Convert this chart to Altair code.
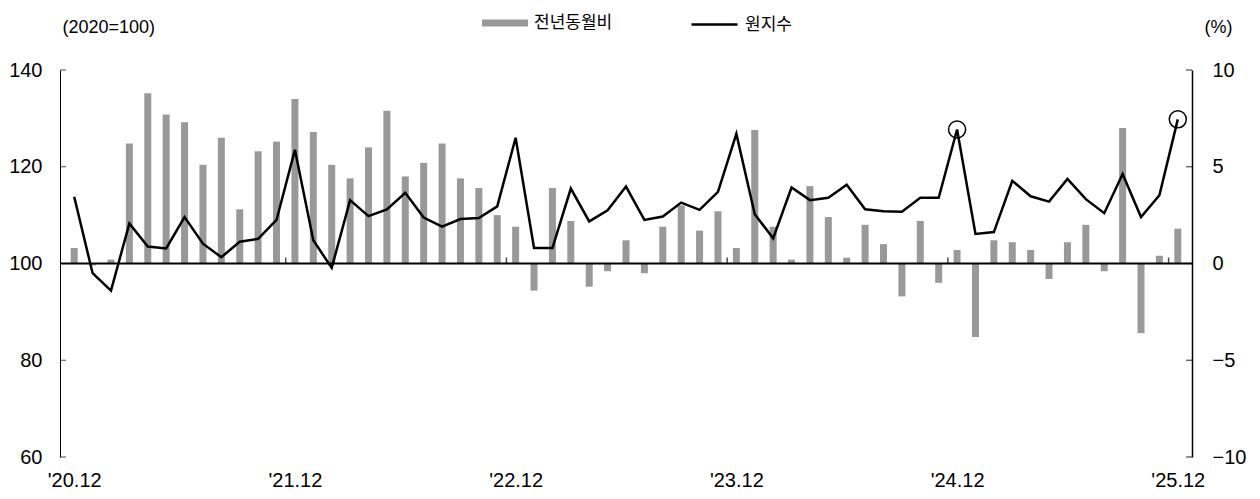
import json
import altair as alt
import pandas as pd

# ---- data ----
month_idx = list(range(61))  # '20.12 ... '25.12
index_vals = [113.8, 98.0, 94.4, 108.3, 103.5, 103.1, 109.6, 104.1, 101.3, 104.5, 105.1, 109.0,
              123.5, 104.8, 99.1, 113.1, 109.8, 111.2, 114.6, 109.5, 107.6, 109.2, 109.4, 111.8,
              126.0, 103.2, 103.2, 115.5, 108.7, 111.0, 115.9, 109.0, 109.7, 112.6, 111.1, 114.8,
              126.8, 110.2, 105.2, 115.7, 113.1, 113.6, 116.3, 111.2, 110.8, 110.7, 113.6, 113.6,
              127.7, 106.1, 106.5, 117.1, 113.9, 112.8, 117.5, 113.3, 110.4, 118.5, 109.6, 114.1,
              129.8]
yoy_vals = [0.8, -0.1, 0.2, 6.2, 8.8, 7.7, 7.3, 5.1, 6.5, 2.8, 5.8, 6.3,
            8.5, 6.8, 5.1, 4.4, 6.0, 7.9, 4.5, 5.2, 6.2, 4.4, 3.9, 2.5,
            1.9, -1.4, 3.9, 2.2, -1.2, -0.4, 1.2, -0.5, 1.9, 3.0, 1.7, 2.7,
            0.8, 6.9, 1.9, 0.2, 4.0, 2.4, 0.3, 2.0, 1.0, -1.7, 2.2, -1.0,
            0.7, -3.8, 1.2, 1.1, 0.7, -0.8, 1.1, 2.0, -0.4, 7.0, -3.6, 0.4,
            1.8]
highlight_idx = [48, 60]
x_label_pos = [0, 12, 24, 36, 48, 60]
x_labels = ["'20.12", "'21.12", "'22.12", "'23.12", "'24.12", "'25.12"]
year_breaks = [11.5, 23.5, 35.5, 47.5, 59.5]
left_ticks = [60, 80, 100, 120, 140]
right_ticks = [-10, -5, 0, 5, 10]
bar_name = "전년동월비"
line_name = "원지수"

W, H = 1132, 387
NUM_FONT = "Liberation Sans, Arial, sans-serif"
KR_FONT = "Noto Sans CJK KR"

df = pd.DataFrame({"i": month_idx, "v": index_vals, "p": yoy_vals})
df["s1"] = bar_name
df["s2"] = line_name
hl = df[df["i"].isin(highlight_idx)]

x_axis = alt.Axis(values=x_label_pos,
                  labelExpr=json.dumps(x_labels) + "[round(datum.value/12)]",
                  domain=False, ticks=False, grid=False, labelPadding=13,
                  labelFontSize=20, labelFont=NUM_FONT, labelColor="black",
                  title=None)
X = alt.X("i:Q", scale=alt.Scale(domain=[-0.5, 60.5], nice=False, zero=False), axis=x_axis)

left_axis = alt.Axis(values=left_ticks, ticks=False, grid=False, domain=True,
                     domainColor="black", domainWidth=1, labelPadding=18,
                     labelFontSize=20, labelFont=NUM_FONT, labelColor="black",
                     title="(2020=100)", titleAngle=0, titleX=2, titleY=-43,
                     titleAlign="left", titleBaseline="middle", titleFontSize=18,
                     titleFontWeight="normal", titleFont=NUM_FONT, titleColor="black")
YL = alt.Y("v:Q", scale=alt.Scale(domain=[60, 140], nice=False, zero=False), axis=left_axis)

right_axis = alt.Axis(orient="right", values=right_ticks, ticks=False, grid=False, domain=True,
                      domainColor="black", domainWidth=1.5, labelPadding=20,
                      labelAlign="left", labelFontSize=20, labelFont=NUM_FONT,
                      labelColor="black",
                      title="(%)", titleAngle=0, titleX=26, titleY=-43,
                      titleAlign="center", titleBaseline="middle", titleFontSize=18,
                      titleFontWeight="normal", titleFont=NUM_FONT, titleColor="black")
YR = alt.Y("p:Q", scale=alt.Scale(domain=[-10, 10], nice=False), axis=right_axis)

bars = alt.Chart(df).mark_bar(size=7).encode(
    x=X, y=YR,
    color=alt.Color("s1:N", scale=alt.Scale(range=["#999999"]),
                    legend=alt.Legend(title=None, orient="none", legendX=422, legendY=-70,
                                      symbolType="M-1,-0.15H1V0.15H-1Z", symbolSize=2116,
                                      symbolStrokeWidth=0, labelFont=KR_FONT,
                                      labelFontSize=17, labelOffset=6, padding=0,
                                      labelColor="black")))

rticks = alt.Chart(pd.DataFrame({"p": right_ticks, "i": [0] * 5})).mark_tick(
    orient="horizontal", size=6, thickness=1.2, color="black", xOffset=-3
).encode(x=alt.value(W), y=YR)

line = alt.Chart(df).mark_line(strokeWidth=2.5).encode(
    x=X, y=YL,
    stroke=alt.Stroke("s2:N", scale=alt.Scale(range=["black"]),
                      legend=alt.Legend(title=None, orient="none", legendX=630, legendY=-70,
                                        symbolType="M-1,0H1", symbolSize=2116,
                                        symbolStrokeWidth=2.5, labelFont=KR_FONT,
                                        labelFontSize=17, labelOffset=6, padding=0,
                                        labelColor="black")))

circles = alt.Chart(hl).mark_point(shape="circle", size=290, filled=False,
                                   color="black", strokeWidth=1.5, opacity=1).encode(x=X, y=YL)

baseline = alt.Chart(pd.DataFrame({"v": [100], "i": [0]})).mark_rule(
    color="black", strokeWidth=2).encode(y=YL)

lticks = alt.Chart(pd.DataFrame({"v": left_ticks, "i": [0] * 5})).mark_tick(
    orient="horizontal", size=6, thickness=1, color="black", xOffset=3
).encode(x=alt.value(0), y=YL)

yticks = alt.Chart(pd.DataFrame({"i": year_breaks, "v": [100] * 5})).mark_tick(
    orient="vertical", size=6, thickness=1.5, color="black", yOffset=-3
).encode(x=X, y=YL)

right_group = alt.layer(bars, rticks)
left_group = alt.layer(baseline, line, circles, lticks, yticks)

chart = alt.layer(right_group, left_group).resolve_scale(
    y="independent", color="independent", stroke="independent"
).properties(
    width=W, height=H,
    autosize=alt.AutoSizeParams(type="none"),
    padding={"left": 52, "top": 62, "right": 58, "bottom": 33},
    background="white",
).configure_view(stroke=None)

chart.save("out.html", embed_options={"renderer": "svg", "actions": False})
